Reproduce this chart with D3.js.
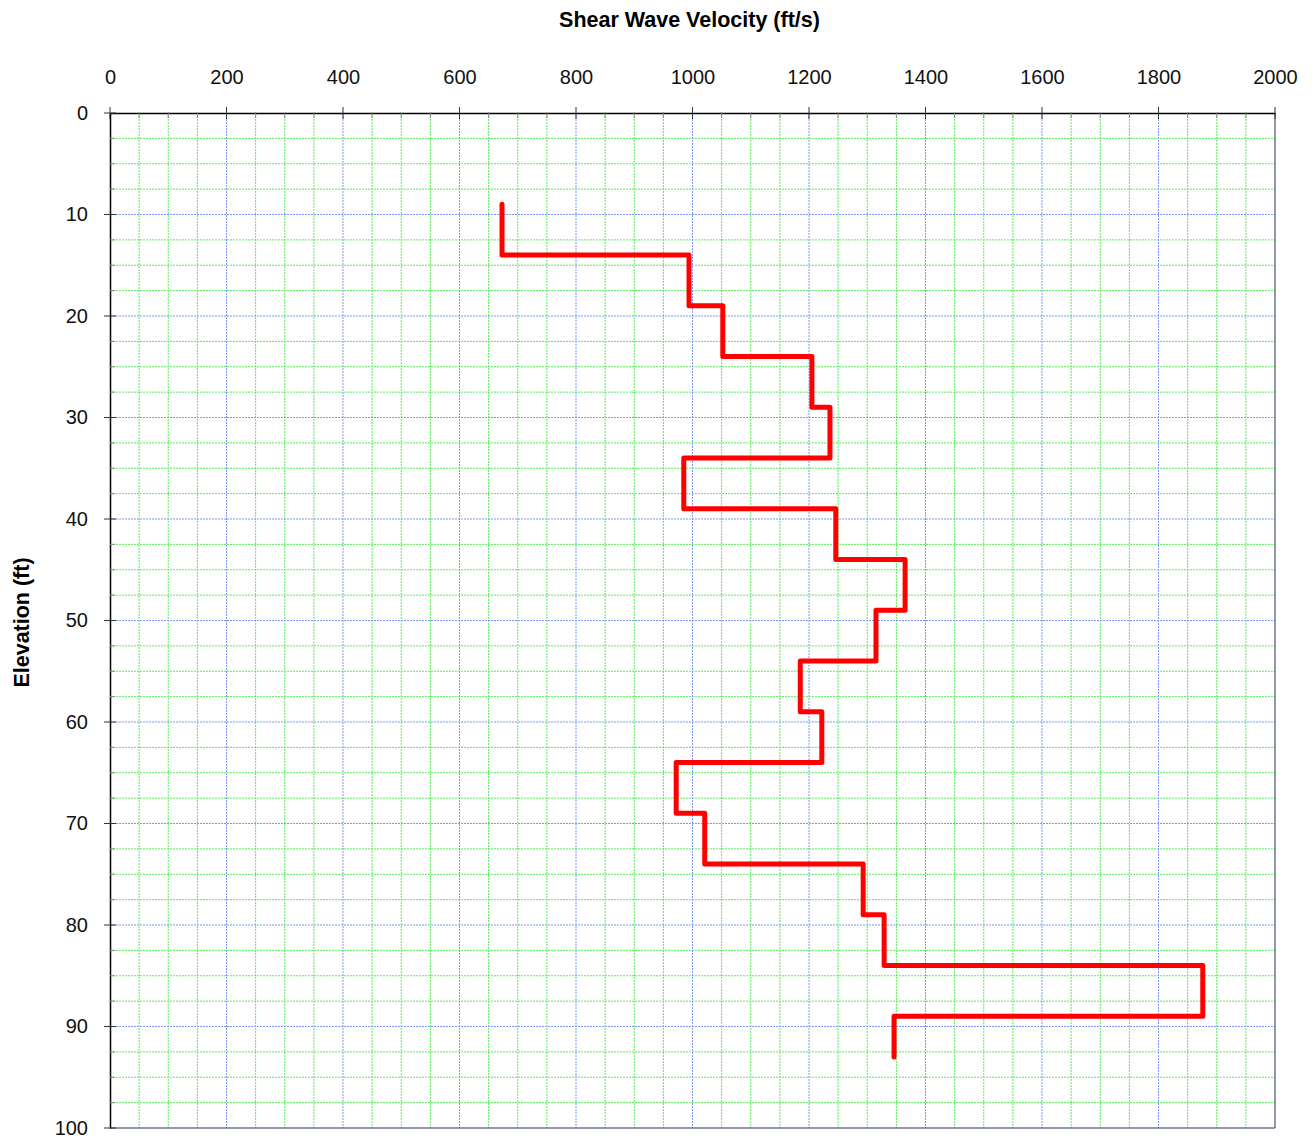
<!DOCTYPE html>
<html>
<head>
<meta charset="utf-8">
<script src="https://cdn.jsdelivr.net/npm/d3@7"></script>
<style>
  body { margin: 0; background: #fff; }
  text { font-family: "Liberation Sans", Arial, sans-serif; }
</style>
</head>
<body>
<div id="chart"></div>
<script>
// layer boundaries (ft) and shear wave velocity in each layer (ft/s)
var depths = [9, 14, 19, 24, 29, 34, 39, 44, 49, 54, 59, 64, 69, 74, 79, 84, 89, 93];
var velocities = [673, 994, 1052, 1205, 1236, 985, 1246, 1365, 1315, 1185, 1222, 972, 1021, 1293, 1329, 1876, 1346];
var xTicks = [0, 200, 400, 600, 800, 1000, 1200, 1400, 1600, 1800, 2000];
var yTicks = [0, 10, 20, 30, 40, 50, 60, 70, 80, 90, 100];

var margin = { top: 113, right: 37, bottom: 14, left: 110 },
    W = 1312, H = 1142,
    width = W - margin.left - margin.right,
    height = H - margin.top - margin.bottom;

var x = d3.scaleLinear().domain([0, 2000]).range([0, width]);
var y = d3.scaleLinear().domain([0, 100]).range([0, height]);

var svg = d3.select("#chart").append("svg")
    .attr("width", W).attr("height", H);
var g = svg.append("g")
    .attr("transform", "translate(" + margin.left + "," + margin.top + ")");

// minor grid (green) every 50 ft/s and 2.5 ft
var xMinor = d3.range(0, 2001, 50).filter(function (d) { return d % 200 !== 0; });
var yMinor = d3.range(0, 100.1, 2.5).filter(function (d) { return d % 10 !== 0; });

g.selectAll(".vminor").data(xMinor).enter().append("line")
    .attr("x1", function (d) { return x(d); }).attr("x2", function (d) { return x(d); })
    .attr("y1", 0).attr("y2", height)
    .attr("stroke", "#55ee55").attr("stroke-width", 1).attr("stroke-dasharray", "2,1");
g.selectAll(".hminor").data(yMinor).enter().append("line")
    .attr("y1", function (d) { return y(d); }).attr("y2", function (d) { return y(d); })
    .attr("x1", 0).attr("x2", width)
    .attr("stroke", "#55ee55").attr("stroke-width", 1).attr("stroke-dasharray", "2,1");

// major grid (blue)
g.selectAll(".vmajor").data(xTicks.slice(1, -1)).enter().append("line")
    .attr("x1", function (d) { return x(d); }).attr("x2", function (d) { return x(d); })
    .attr("y1", 0).attr("y2", height)
    .attr("stroke", "#7b98f5").attr("stroke-width", 1).attr("stroke-dasharray", "2,1");
g.selectAll(".hmajor").data(yTicks.slice(1, -1)).enter().append("line")
    .attr("y1", function (d) { return y(d); }).attr("y2", function (d) { return y(d); })
    .attr("x1", 0).attr("x2", width)
    .attr("stroke", "#7b98f5").attr("stroke-width", 1).attr("stroke-dasharray", "2,1");

// right / bottom frame
g.append("path")
    .attr("d", "M" + width + ",0V" + height + "H0")
    .attr("fill", "none").attr("stroke", "#2b3550").attr("stroke-width", 1);

// top axis
var topAxis = g.append("g")
    .call(d3.axisTop(x).tickValues(xTicks).tickFormat(d3.format("d")).tickSize(0).tickPadding(29));
topAxis.select(".domain").attr("stroke", "#000").attr("stroke-width", 1.5);
topAxis.selectAll("text").attr("font-size", 20).attr("fill", "#111");
g.selectAll(".xtick").data(d3.range(0, 2001, 50)).enter().append("line")
    .attr("x1", function (d) { return x(d); }).attr("x2", function (d) { return x(d); })
    .attr("y1", function (d) { return d % 200 === 0 ? -6 : -1; })
    .attr("y2", function (d) { return d % 200 === 0 ? 6 : 5; })
    .attr("stroke", function (d) { return d % 200 === 0 ? "#333" : "#888"; });

// left axis
var leftAxis = g.append("g")
    .call(d3.axisLeft(y).tickValues(yTicks).tickFormat(d3.format("d")).tickSize(0).tickPadding(22));
leftAxis.select(".domain").attr("stroke", "#000").attr("stroke-width", 1.5);
leftAxis.selectAll("text").attr("font-size", 20).attr("fill", "#111");
g.selectAll(".ytick").data(d3.range(0, 100.1, 2.5)).enter().append("line")
    .attr("y1", function (d) { return y(d); }).attr("y2", function (d) { return y(d); })
    .attr("x1", function (d) { return d % 10 === 0 ? -6 : 0; })
    .attr("x2", function (d) { return d % 10 === 0 ? 6 : 5; })
    .attr("stroke", function (d) { return d % 10 === 0 ? "#333" : "#888"; });

// velocity profile
var pts = [];
velocities.forEach(function (v, i) {
    pts.push([v, depths[i]]);
    pts.push([v, depths[i + 1]]);
});
var line = d3.line()
    .x(function (d) { return x(d[0]); })
    .y(function (d) { return y(d[1]); });
g.append("path")
    .attr("d", line(pts))
    .attr("fill", "none").attr("stroke", "#ff0000")
    .attr("stroke-width", 5).attr("stroke-linejoin", "round").attr("stroke-linecap", "round");

// titles
svg.append("text")
    .attr("x", margin.left + width / 2 - 3).attr("y", 27)
    .attr("text-anchor", "middle").attr("font-size", 21.5).attr("font-weight", "bold")
    .text("Shear Wave Velocity (ft/s)");
svg.append("text")
    .attr("transform", "translate(29," + (margin.top + height / 2 + 2) + ") rotate(-90)")
    .attr("text-anchor", "middle").attr("font-size", 21.5).attr("font-weight", "bold")
    .text("Elevation (ft)");
</script>
</body>
</html>
